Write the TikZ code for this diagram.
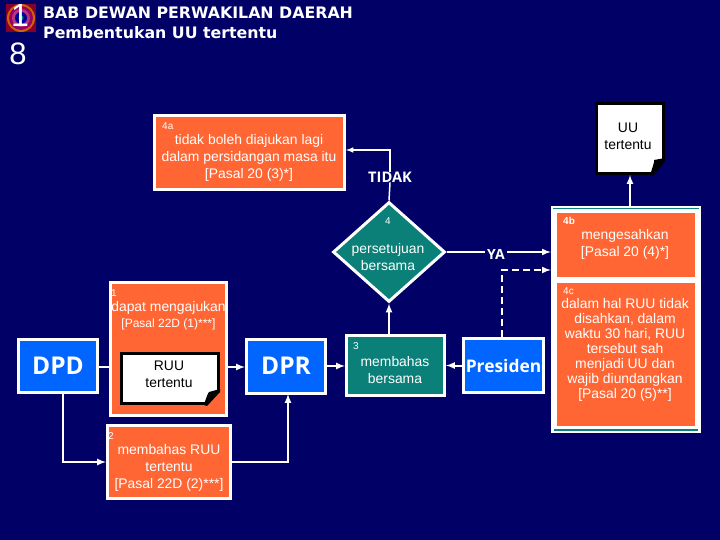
\documentclass[tikz,border=0pt]{standalone}
\usepackage{fontspec}
\setmainfont{Liberation Sans}
\newfontfamily\boldfont{Open Sans}
\newfontfamily\titlefont{DejaVu Sans}
\usepackage{tikz}
\usetikzlibrary{arrows}
\usetikzlibrary{shapes.geometric}
\definecolor{navybg}{HTML}{000066}
\definecolor{orangefill}{HTML}{FF6633}
\definecolor{tealfill}{HTML}{0A8078}
\definecolor{bluefill}{HTML}{0066FF}
\tikzset{
	box/.style={draw=white, line width=3pt, inner sep=0pt},
	orangebox/.style={box, fill=orangefill},
	tealbox/.style={box, fill=tealfill},
	bluebox/.style={box, fill=bluefill, text=white, font=\boldfont\bfseries},
	doc/.style={draw=black, fill=white, line width=3pt, inner sep=0pt},
	boxtext/.style={text=white, inner sep=0pt, align=center, font=\fontsize{13.9}{17}\selectfont},
	numtext/.style={text=white, inner sep=0pt, font=\fontsize{10}{10}\selectfont},
	link/.style={draw=white, line width=2pt},
	thinlink/.style={draw=white, line width=1.5pt}
}
\begin{document}
\begin{tikzpicture}[x=1pt,y=-1pt]
		\useasboundingbox (0,0) rectangle (720,540);
		\fill[navybg] (0,0) rectangle (720,540);
		% icon behind the number
		\fill[fill=purple!70!black] (6,4) rectangle (36,32);
		\fill[fill=orange!80!black] (21,18) circle (14);
		\fill[fill=purple!80!blue] (21,18) circle (12);
		\fill[fill=magenta!70!black] (21,18) circle (9);
		\fill[fill=blue!60!black] (21,18) circle (6);
		\fill[fill=teal] (21,18) circle (2.5);
		\node[text=white, font=\fontsize{32}{32}\selectfont] (numone) at (20,15) {1};
		\node[text=white, font=\fontsize{31}{31}\selectfont] (numeight) at (18,54) {8};
		% title
		\node[text=white, anchor=west, align=left, inner sep=0pt, font=\titlefont\bfseries\fontsize{15.8}{20}\selectfont] (title) at (43,23) {BAB DEWAN PERWAKILAN DAERAH\\Pembentukan UU tertentu};

		% top row
		\node[orangebox, minimum width=190, minimum height=74] (box4a) at (249.5,152.5) {};
		\node[numtext, anchor=west] (num4a) at (162,126) {4a};
		\node[boxtext] (text4a) at (249,157.5) {tidak boleh diajukan lagi\\dalam persidangan masa itu\\{[Pasal 20 (3)*]}};
		\node[doc, minimum width=67, minimum height=70] (uu) at (630,138.5) {};
		\node[boxtext, text=black] (textuu) at (628,136.5) {UU\\tertentu};

		% diamond
		\node[diamond, draw=white, fill=tealfill, line width=3pt, inner sep=0pt, minimum width=112, minimum height=100] (setuju) at (389,252) {};
		\node[numtext] (num4) at (388,221) {4};
		\node[boxtext] (textsetuju) at (388,257) {persetujuan\\bersama};
		\node[text=white, inner sep=0pt, font=\boldfont\bfseries\fontsize{14.6}{15}\selectfont] (tidak) at (390,177) {TIDAK};
		\node[text=white, inner sep=2pt, font=\boldfont\bfseries\fontsize{14}{15}\selectfont] (ya) at (496,254) {YA};

		% right panel
		\node[draw=none, fill=white, inner sep=0pt, minimum width=150, minimum height=227] (panel) at (626,319.5) {};
		\draw[draw=tealfill, line width=1pt] (553,209) -- (699,209);
		\draw[draw=tealfill, line width=2pt] (554,429.5) -- (698,429.5);
		\node[draw=none, fill=orangefill, minimum width=138, minimum height=64, inner sep=0pt] (box4b) at (626,245) {};
		\node[numtext, anchor=west, font=\fontsize{10}{10}\selectfont\bfseries] (num4b) at (563,221) {4b};
		\node[boxtext] (text4b) at (625,244.5) {mengesahkan\\{[Pasal 20 (4)*]}};
		\node[draw=none, fill=orangefill, minimum width=138, minimum height=143, inner sep=0pt] (box4c) at (626,354.5) {};
		\node[numtext, anchor=west] (num4c) at (563,291) {4c};
		\node[boxtext, font=\fontsize{13.9}{15}\selectfont] (text4c) at (625,350) {dalam hal RUU tidak\\disahkan, dalam\\waktu 30 hari, RUU\\tersebut sah\\menjadi UU dan\\wajib diundangkan\\{[Pasal 20 (5)**]}};

		% bottom row
		\node[bluebox, minimum width=79, minimum height=53, font=\boldfont\bfseries\fontsize{24.5}{25}\selectfont] (dpd) at (58,366) {DPD};
		\node[orangebox, minimum width=116, minimum height=133] (box1) at (168.5,349) {};
		\node[numtext, anchor=west] (num1) at (111,293) {1};
		\node[boxtext] (text1a) at (168.5,308) {dapat mengajukan};
		\node[boxtext, font=\fontsize{12}{14}\selectfont] (text1b) at (168.5,324) {[Pasal 22D (1)***]};
		\node[doc, minimum width=97, minimum height=50] (ruu) at (170,378.5) {};
		\node[boxtext, text=black] (textruu) at (169,374.5) {RUU\\tertentu};
		\node[orangebox, minimum width=123, minimum height=73] (box2) at (169,462) {};
		\node[numtext, anchor=west] (num2) at (108,436) {2};
		\node[boxtext] (text2) at (169,468) {membahas RUU\\tertentu\\{[Pasal 22D (2)***]}};
		\node[bluebox, minimum width=79, minimum height=54, font=\boldfont\bfseries\fontsize{24.5}{25}\selectfont] (dpr) at (286,366) {DPR};
		\node[tealbox, minimum width=98, minimum height=60] (box3) at (395.5,365.5) {};
		\node[numtext, anchor=west] (num3) at (353,346) {3};
		\node[boxtext] (text3) at (395,370) {membahas\\bersama};
		\node[bluebox, minimum width=80, minimum height=54, font=\boldfont\bfseries\fontsize{17.4}{18}\selectfont] (presiden) at (503.5,365.5) {Presiden};

		% folded corners
		\fill[fill=navybg] (652,175) -- (665,159) -- (666,176) -- cycle;
		\fill[fill=black] (650,175) .. controls (653,166) and (655,160) .. (654,160) -- (665,158) -- (665,161) -- (653,176) -- cycle;
		\fill[fill=orangefill] (207,405) -- (220,391) -- (221,406) -- cycle;
		\fill[fill=black] (204,405) .. controls (206,398) and (208,393) .. (209,392) -- (220,389) -- (220,392) -- (207,406) -- cycle;

		% connectors
		\coordinate (midline) at (0,367);
		\coordinate (tidakbend) at (390,150);
		\coordinate (dashbend) at (502,270);
		\coordinate (dpdout) at (63,393);
		\coordinate (dprin) at (288,394);
		\draw[thinlink] (setuju.north) -- (tidak.south);
		\draw[thinlink, -latex] (tidak.north) -- (tidakbend) -- (tidakbend -| box4a.east);
		\draw[link] (setuju.east) -- (setuju.east -| ya.west);
		\draw[link, -latex] (setuju.east -| ya.east) -- (setuju.east -| panel.west);
		\draw[link, dash pattern=on 7pt off 4pt, -latex] (dashbend |- presiden.north) -- (dashbend) -- (dashbend -| panel.west);
		\draw[link, -latex] (uu.south |- panel.north) -- (uu.south);
		\draw[link] (midline -| dpd.east) -- (midline -| box1.west);
		\draw[link, -latex] (midline -| box1.east) -- (midline -| dpr.west);
		\draw[link, -latex] (dpr.east) -- (dpr.east -| box3.west);
		\draw[link, -latex] (presiden.west) -- (presiden.west -| box3.east);
		\draw[link, -latex] (setuju.south |- box3.north) -- (setuju.south);
		\draw[link, -latex] (dpdout) |- (box2.west);
		\draw[link, -latex] (box2.east) -| (dprin);
\end{tikzpicture}
\end{document}
